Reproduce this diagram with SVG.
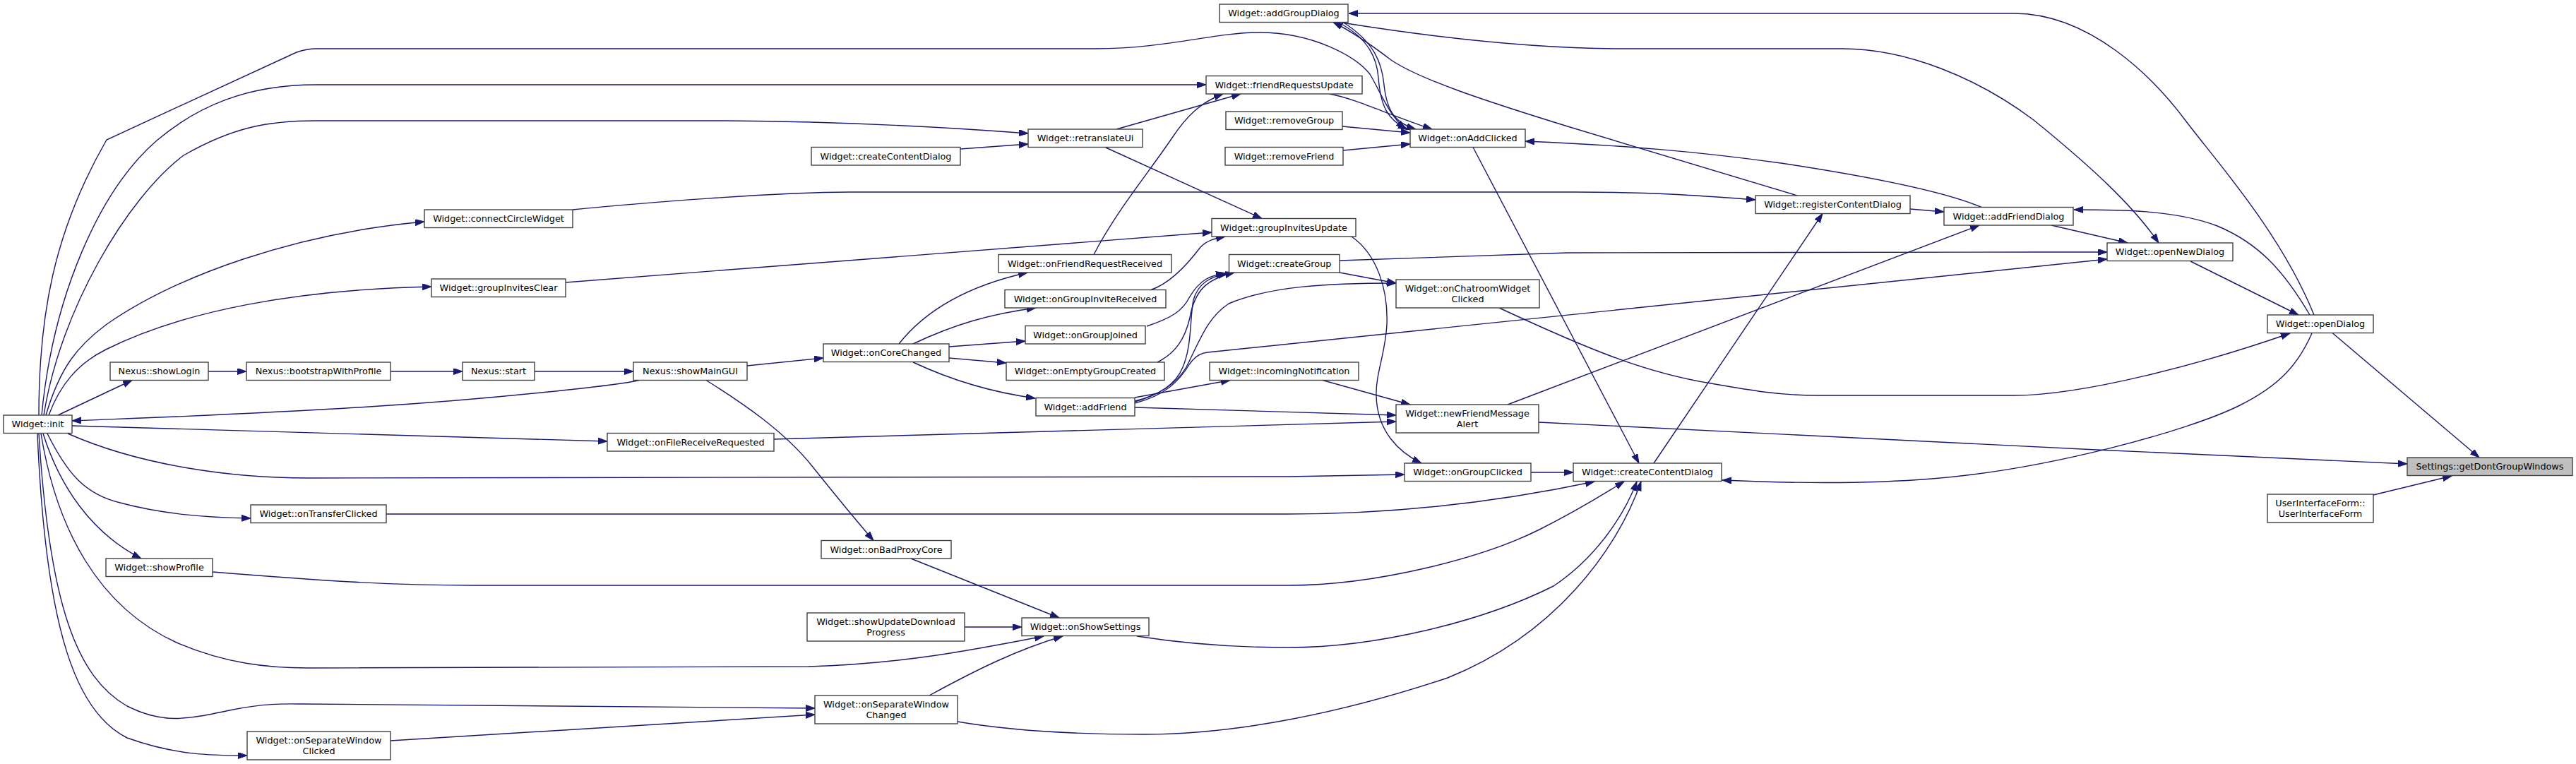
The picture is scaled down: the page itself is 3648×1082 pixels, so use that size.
<svg xmlns="http://www.w3.org/2000/svg" width="3648" height="1082" viewBox="0 0 3648 1082">
<style>
.node rect{fill:#ffffff;stroke:#404040;stroke-width:1.4}
.focus rect{fill:#bfbfbf}
.node text{font-family:"DejaVu Sans","Liberation Sans",sans-serif;font-size:12.8px;text-anchor:middle;fill:#000000}
.edges path{fill:none;stroke:#191970;stroke-width:1.4;marker-end:url(#arr)}
</style>
<defs>
<marker id="arr" markerWidth="15" markerHeight="11" refX="13" refY="4.5" orient="auto" markerUnits="userSpaceOnUse">
<path d="M0,0 L13,4.5 L0,9 Z" fill="#191970" stroke="#191970" stroke-width="1"/>
</marker>
</defs>
<rect x="0" y="0" width="3648" height="1082" fill="#ffffff"/>
<g id="connectors" class="edges">
<path d="M3303,471.5 L3511,648"/>
<path d="M2179,598 C2500,613 3000,640 3409,657"/>
<path d="M3361,701 L3472,674"/>
<path d="M3102,370 L3255,446"/>
<path d="M2123,436 C2250,495 2330,528 2423,543 C2480,553 2520,560 2574,560 L2852,560 C2950,560 3120,515 3243,472"/>
<path d="M3274,472 C3255,515 3230,545 3172,574 C3100,610 2900,665 2736,678 C2650,685 2550,685 2439,680"/>
<path d="M3277,446 C3230,330 3140,230 3096,172 C3050,110 2960,19 2852,19 L1910,19"/>
<path d="M3271,446 C3235,385 3200,345 3140,320 C3080,297 3000,297 2937,297"/>
<path d="M2905,319 L3013,344"/>
<path d="M1900,32 C2000,48 2150,69 2300,69 L2609,69 C2700,69 2800,110 2880,170 C2960,235 3020,290 3057,344"/>
<path d="M1897,369 L2220,358 C2400,356 2700,357 2984,357"/>
<path d="M1607,571 C1650,560 1670,540 1685,515 C1692,505 1700,500 1710,499 L2984,367"/>
<path d="M2135,573 L2803,319"/>
<path d="M2705,296 L2753,300"/>
<path d="M2806,293.5 C2770,278 2700,258 2522,231 C2400,214 2300,206 2160,200"/>
<path d="M811,297 C900,288 1100,272 1203,272 L2231,272 C2350,272 2420,278 2486,283"/>
<path d="M2342,656 L2581,302.5"/>
<path d="M2545,277 L2220,179 C2100,142 2010,112 1970,85 C1940,62 1915,45 1888,31.5"/>
<path d="M1895,31.5 C1940,55 1950,85 1952,110 C1955,150 1965,170 1993,183"/>
<path d="M1902,31.5 C1947,60 1957,90 1960,120 C1964,160 1978,175 2005,183"/>
<path d="M55,588 C55,450 75,330 151,198 L420,74 C432,70 440,69 448,69 L1552,69 C1650,69 1720,46 1783,46 C1860,46 1920,80 1940,105 C1955,130 1965,160 1990,183"/>
<path d="M59,588 C75,420 140,270 222,199 C280,150 350,120 448,120 L1708,120"/>
<path d="M62,588 C85,440 180,280 260,220 C330,180 380,171 448,171 L1028,171 C1200,172 1350,181 1456,189"/>
<path d="M65,588 C85,520 110,490 150,460 C250,390 420,330 601,314"/>
<path d="M69,588 C85,545 110,515 150,495 C260,440 420,410 611,406"/>
<path d="M82,588 L187,538.5"/>
<path d="M295,526 L349,526"/>
<path d="M553,526 L655,526"/>
<path d="M757,526 L897,526"/>
<path d="M905,538.5 C880,545 700,565 523,576 C350,587 200,592 102,596"/>
<path d="M1058,518 L1166,507"/>
<path d="M1000,538.5 C1050,570 1110,610 1150,660 C1190,710 1215,740 1237,765.5"/>
<path d="M102,603 L860,625"/>
<path d="M96,614 C200,660 330,677 436,677 L1824,675 L1989,672"/>
<path d="M67,614 C95,670 120,700 170,712 C230,728 290,733 355,734"/>
<path d="M61,614 C85,690 130,755 200,791"/>
<path d="M58,614 C80,750 140,860 250,910 C320,940 380,946 436,946 L1145,944 C1280,940 1380,920 1478,901"/>
<path d="M55,614 C70,860 110,960 180,1000 C230,1025 260,1020 330,1005 C380,995 410,997 430,997 L1154,1003"/>
<path d="M53,614 C65,900 110,1010 180,1045 C250,1070 300,1070 350,1070"/>
<path d="M801,400 L1716,329"/>
<path d="M553,1049 L912,1027 L1154,1012"/>
<path d="M1366,888 L1447,888"/>
<path d="M1290,791 L1500,875"/>
<path d="M1316,985 C1380,950 1440,920 1505,901"/>
<path d="M547,728 L1824,728 C2000,728 2150,705 2258,682"/>
<path d="M301,810 C450,822 550,829 669,829 L1824,829 C1950,829 2100,790 2180,750 C2240,720 2270,700 2300,682"/>
<path d="M1610,901 C1700,915 1780,917 1824,917 C1950,917 2100,880 2200,830 C2260,790 2300,730 2318,682"/>
<path d="M1356,1022 C1450,1038 1550,1040 1620,1040 C1750,1040 1900,1010 2050,960 C2200,900 2290,780 2324,682"/>
<path d="M2168,669 L2228,669"/>
<path d="M2086,208.5 L2321,656"/>
<path d="M1873,538.5 L1997,573"/>
<path d="M1607,577 L1977,588"/>
<path d="M1096,622 C1400,612 1700,603 1977,597"/>
<path d="M1914,335 C1950,360 1966,410 1964,460 C1962,500 1948,530 1949,560 C1950,610 1980,640 2013,656"/>
<path d="M1897,386 L1977,401"/>
<path d="M1607,569 C1640,560 1665,545 1680,520 C1700,480 1710,450 1740,430 C1800,405 1880,401 1977,401"/>
<path d="M1607,568 C1640,560 1665,545 1675,520 C1688,490 1685,450 1690,425 C1697,400 1715,392 1738,387"/>
<path d="M1607,563 L1742,538.5"/>
<path d="M1293,513 C1340,535 1400,555 1466,564"/>
<path d="M1273,487 C1310,440 1370,405 1455,386"/>
<path d="M1293,487 C1350,460 1400,445 1467,436"/>
<path d="M1344,491 L1452,483"/>
<path d="M1344,507 L1425,514"/>
<path d="M1624,462 C1660,450 1675,440 1685,420 C1700,395 1715,390 1735,387"/>
<path d="M1639,513 C1665,500 1678,480 1685,450 C1692,410 1710,395 1748,386"/>
<path d="M1630,410.5 C1660,400 1685,370 1700,350 C1710,340 1720,338 1735,335"/>
<path d="M1549,360.5 C1580,300 1630,240 1660,195 C1680,165 1700,145 1732,133"/>
<path d="M1581,183 L1757,133"/>
<path d="M1566,209 L1787,309.5"/>
<path d="M1360,211 L1456,204"/>
<path d="M1883,133 C1920,140 1960,160 2028,183"/>
<path d="M1901,179 L1997,188"/>
<path d="M1902,213 L1997,204"/>
</g>
<g id="n_getDontGroupWindows" class="node focus"><rect x="3409" y="648" width="234" height="25.5"/><text x="3526" y="665">Settings::getDontGroupWindows</text></g>
<g id="n_UserInterfaceForm" class="node"><rect x="3211" y="700" width="150" height="40"/><text x="3286" y="716.5">UserInterfaceForm::</text><text x="3286" y="731.5">UserInterfaceForm</text></g>
<g id="n_openDialog" class="node"><rect x="3211" y="446" width="150" height="25.5"/><text x="3286" y="463">Widget::openDialog</text></g>
<g id="n_openNewDialog" class="node"><rect x="2984" y="344" width="178" height="25.5"/><text x="3073" y="361">Widget::openNewDialog</text></g>
<g id="n_addFriendDialog" class="node"><rect x="2753" y="293.5" width="183" height="25.5"/><text x="2844.5" y="310.5">Widget::addFriendDialog</text></g>
<g id="n_registerContentDialog" class="node"><rect x="2486" y="277" width="219" height="25.5"/><text x="2595.5" y="294">Widget::registerContentDialog</text></g>
<g id="n_createContentDialog2" class="node"><rect x="2228" y="656" width="210" height="25.5"/><text x="2333" y="673">Widget::createContentDialog</text></g>
<g id="n_onAddClicked" class="node"><rect x="1997" y="183" width="163" height="25.5"/><text x="2078.5" y="200">Widget::onAddClicked</text></g>
<g id="n_onChatroomWidgetClicked" class="node"><rect x="1977" y="396" width="203" height="40"/><text x="2078.5" y="412.5">Widget::onChatroomWidget</text><text x="2078.5" y="427.5">Clicked</text></g>
<g id="n_newFriendMessageAlert" class="node"><rect x="1977" y="573" width="202" height="40"/><text x="2078" y="589.5">Widget::newFriendMessage</text><text x="2078" y="604.5">Alert</text></g>
<g id="n_onGroupClicked" class="node"><rect x="1989" y="656" width="179" height="25.5"/><text x="2078.5" y="673">Widget::onGroupClicked</text></g>
<g id="n_addGroupDialog" class="node"><rect x="1727" y="6" width="182" height="25.5"/><text x="1818" y="23">Widget::addGroupDialog</text></g>
<g id="n_friendRequestsUpdate" class="node"><rect x="1708" y="107.5" width="221" height="25.5"/><text x="1818.5" y="124.5">Widget::friendRequestsUpdate</text></g>
<g id="n_removeGroup" class="node"><rect x="1736" y="158" width="165" height="25.5"/><text x="1818.5" y="175">Widget::removeGroup</text></g>
<g id="n_removeFriend" class="node"><rect x="1735" y="208.5" width="167" height="25.5"/><text x="1818.5" y="225.5">Widget::removeFriend</text></g>
<g id="n_groupInvitesUpdate" class="node"><rect x="1716" y="309.5" width="204" height="25.5"/><text x="1818" y="326.5">Widget::groupInvitesUpdate</text></g>
<g id="n_createGroup" class="node"><rect x="1740.5" y="360.5" width="156.5" height="25.5"/><text x="1818.75" y="377.5">Widget::createGroup</text></g>
<g id="n_incomingNotification" class="node"><rect x="1713" y="513" width="211" height="25.5"/><text x="1818.5" y="530">Widget::incomingNotification</text></g>
<g id="n_retranslateUi" class="node"><rect x="1456" y="183" width="162" height="25.5"/><text x="1537" y="200">Widget::retranslateUi</text></g>
<g id="n_createContentDialog1" class="node"><rect x="1149" y="208.5" width="211" height="25.5"/><text x="1254.5" y="225.5">Widget::createContentDialog</text></g>
<g id="n_onFriendRequestReceived" class="node"><rect x="1414" y="360.5" width="245" height="25.5"/><text x="1536.5" y="377.5">Widget::onFriendRequestReceived</text></g>
<g id="n_onGroupInviteReceived" class="node"><rect x="1423" y="410.5" width="228" height="25.5"/><text x="1537" y="427.5">Widget::onGroupInviteReceived</text></g>
<g id="n_onGroupJoined" class="node"><rect x="1452" y="461.5" width="170" height="25.5"/><text x="1537" y="478.5">Widget::onGroupJoined</text></g>
<g id="n_onEmptyGroupCreated" class="node"><rect x="1425" y="513" width="224" height="25.5"/><text x="1537" y="530">Widget::onEmptyGroupCreated</text></g>
<g id="n_addFriend" class="node"><rect x="1467" y="563.5" width="140" height="25.5"/><text x="1537" y="580.5">Widget::addFriend</text></g>
<g id="n_onCoreChanged" class="node"><rect x="1166" y="487" width="178" height="25.5"/><text x="1255" y="504">Widget::onCoreChanged</text></g>
<g id="n_showMainGUI" class="node"><rect x="897" y="513" width="161" height="25.5"/><text x="977.5" y="530">Nexus::showMainGUI</text></g>
<g id="n_start" class="node"><rect x="655" y="513" width="102" height="25.5"/><text x="706" y="530">Nexus::start</text></g>
<g id="n_bootstrapWithProfile" class="node"><rect x="349" y="513" width="204" height="25.5"/><text x="451" y="530">Nexus::bootstrapWithProfile</text></g>
<g id="n_showLogin" class="node"><rect x="156" y="513" width="139" height="25.5"/><text x="225.5" y="530">Nexus::showLogin</text></g>
<g id="n_init" class="node"><rect x="5" y="588" width="97" height="25.5"/><text x="53.5" y="605">Widget::init</text></g>
<g id="n_connectCircleWidget" class="node"><rect x="601" y="297" width="210" height="25.5"/><text x="706" y="314">Widget::connectCircleWidget</text></g>
<g id="n_groupInvitesClear" class="node"><rect x="611" y="395" width="190" height="25.5"/><text x="706" y="412">Widget::groupInvitesClear</text></g>
<g id="n_onFileReceiveRequested" class="node"><rect x="860" y="613.5" width="236" height="25.5"/><text x="978" y="630.5">Widget::onFileReceiveRequested</text></g>
<g id="n_onTransferClicked" class="node"><rect x="355" y="715" width="192" height="25.5"/><text x="451" y="732">Widget::onTransferClicked</text></g>
<g id="n_showProfile" class="node"><rect x="150" y="791" width="151" height="25.5"/><text x="225.5" y="808">Widget::showProfile</text></g>
<g id="n_onSeparateWindowClicked" class="node"><rect x="350" y="1036" width="203" height="40"/><text x="451.5" y="1052.5">Widget::onSeparateWindow</text><text x="451.5" y="1067.5">Clicked</text></g>
<g id="n_onBadProxyCore" class="node"><rect x="1163" y="765.5" width="184" height="25.5"/><text x="1255" y="782.5">Widget::onBadProxyCore</text></g>
<g id="n_showUpdateDownloadProgress" class="node"><rect x="1143" y="868" width="223" height="40"/><text x="1254.5" y="884.5">Widget::showUpdateDownload</text><text x="1254.5" y="899.5">Progress</text></g>
<g id="n_onShowSettings" class="node"><rect x="1447" y="875" width="180" height="25.5"/><text x="1537" y="892">Widget::onShowSettings</text></g>
<g id="n_onSeparateWindowChanged" class="node"><rect x="1154" y="985" width="202" height="40"/><text x="1255" y="1001.5">Widget::onSeparateWindow</text><text x="1255" y="1016.5">Changed</text></g>
</svg>
